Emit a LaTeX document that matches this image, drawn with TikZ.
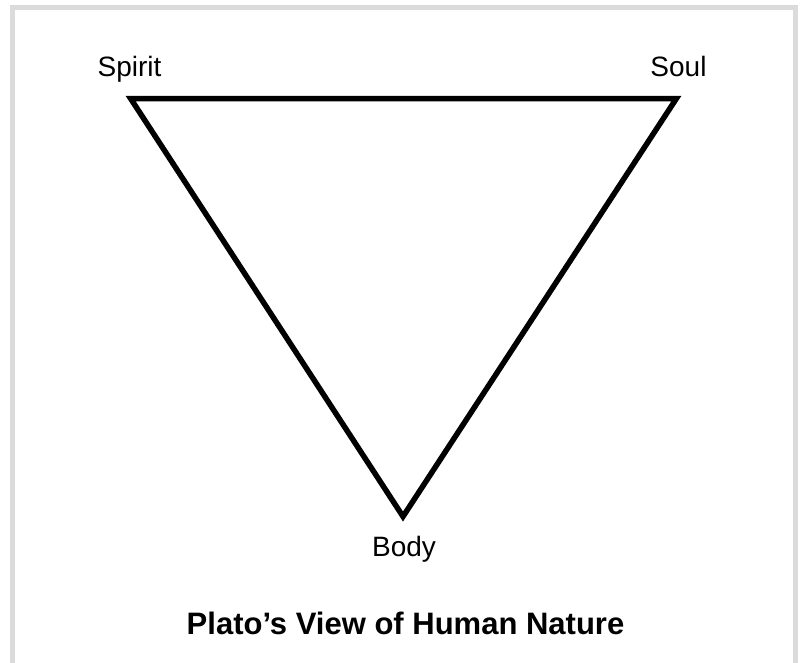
\documentclass[tikz,border=0pt]{standalone}
\usepackage{fontspec}
\setmainfont{Liberation Sans}
\begin{document}
\begin{tikzpicture}[x=1pt,y=-1pt,
  framestyle/.style={draw=black!14,line width=5pt},
  tri/.style={draw=black,line width=5.5pt,line join=miter},
  lbl/.style={anchor=base,inner sep=0pt,font=\fontsize{28}{32}\selectfont},
  ttl/.style={anchor=base,inner sep=0pt,font=\fontsize{31}{35}\selectfont\bfseries}]
\useasboundingbox (0,0) rectangle (803,662);
\clip (0,0) rectangle (803,662);
\fill[white] (0,0) rectangle (803,662);
\coordinate (fbl) at (12.5,700);
\coordinate (ftl) at (12.5,7.5);
\coordinate (ftr) at (795.5,7.5);
\coordinate (fbr) at (795.5,700);
\draw[framestyle] (fbl) -- (ftl) -- (ftr) -- (fbr);
\coordinate (sp) at (130.6,98.5);
\coordinate (so) at (676.4,98.5);
\coordinate (bo) at (403,516.5);
\draw[tri] (sp) -- (so) -- (bo) -- cycle;
\node[lbl] (spirit) at (129.5,76.5) {Spirit};
\node[lbl] (soul) at (678.5,76.5) {Soul};
\node[lbl] (body) at (404,556) {Body};
\node[ttl] (title) at (405.5,634) {Plato’s View of Human Nature};
\end{tikzpicture}
\end{document}
